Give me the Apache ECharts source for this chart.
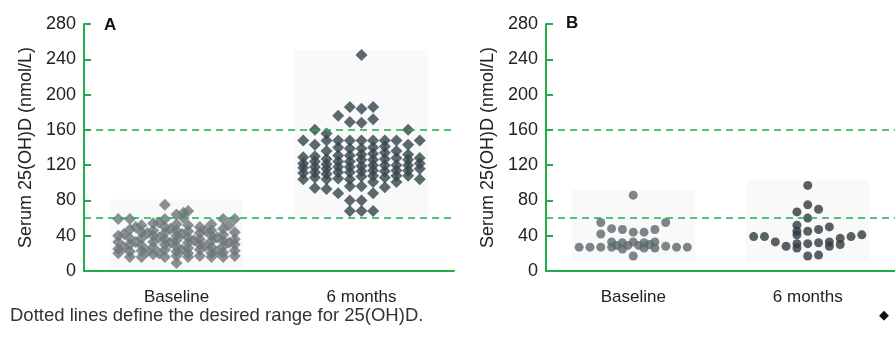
<!DOCTYPE html>
<html>
<head>
<meta charset="utf-8">
<script src="https://cdn.jsdelivr.net/npm/echarts@6/dist/echarts.min.js"></script>
<style>
  html, body { margin: 0; padding: 0; background: #fff; }
  #chart { width: 895px; height: 348px; }
</style>
</head>
<body>
<div id="chart"></div>
<script>
const categories = ["Baseline", "6 months"];
const yMin = 0;
const yMax = 280;
const yStep = 40;
const rangeLines = [60, 160];
const yName = "Serum 25(OH)D (nmol/L)";
const caption = "Dotted lines define the desired range for 25(OH)D.";

// [column offset within the group, serum value]
const panelABaseline = [
  [-5, 59], [-5, 40], [-5, 33], [-5, 25], [-5, 20],
  [-4.5, 42], [-4.5, 27],
  [-4, 59], [-4, 47], [-4, 37], [-4, 30], [-4, 22], [-4, 16],
  [-3.5, 50], [-3.5, 33],
  [-3, 52], [-3, 44], [-3, 37], [-3, 29], [-3, 23], [-3, 16],
  [-2.5, 43], [-2.5, 22],
  [-2, 54], [-2, 46], [-2, 40], [-2, 33], [-2, 27], [-2, 19],
  [-1.5, 55], [-1.5, 38], [-1.5, 20],
  [-1, 75], [-1, 59], [-1, 50], [-1, 43], [-1, 36], [-1, 30], [-1, 24], [-1, 16],
  [-0.5, 48], [-0.5, 32],
  [0, 64], [0, 53], [0, 46], [0, 40], [0, 35], [0, 28], [0, 22], [0, 17], [0, 9],
  [0.5, 42], [0.5, 24],
  [0.6, 66], [0.6, 60],
  [1, 68], [1, 52], [1, 45], [1, 38], [1, 32], [1, 26], [1, 20], [1, 16],
  [1.5, 35],
  [2, 50], [2, 43], [2, 36], [2, 30], [2, 24], [2, 17],
  [2.5, 46], [2.5, 28],
  [3, 53], [3, 46], [3, 40], [3, 34], [3, 27], [3, 20], [3, 16],
  [3.5, 38], [3.5, 22],
  [4, 59], [4, 48], [4, 41], [4, 34], [4, 28], [4, 21], [4, 16],
  [4.5, 52], [4.5, 32],
  [5, 59], [5, 44], [5, 36], [5, 30], [5, 23], [5, 17]
];

const panelAMonths = [
  [-5, 148], [-5, 129], [-5, 122], [-5, 117], [-5, 111], [-5, 104],
  [-4, 160], [-4, 143], [-4, 130], [-4, 124], [-4, 118], [-4, 112], [-4, 106], [-4, 94],
  [-3, 156], [-3, 148], [-3, 136], [-3, 127], [-3, 121], [-3, 116], [-3, 110], [-3, 104], [-3, 93],
  [-2, 176], [-2, 148], [-2, 140], [-2, 131], [-2, 124], [-2, 118], [-2, 112], [-2, 105], [-2, 88],
  [-1, 186], [-1, 169], [-1, 148], [-1, 139], [-1, 131], [-1, 124], [-1, 118], [-1, 112], [-1, 104], [-1, 96], [-1, 80], [-1, 68],
  [0, 245], [0, 184], [0, 168], [0, 148], [0, 139], [0, 132], [0, 126], [0, 119], [0, 113], [0, 107], [0, 96], [0, 80], [0, 68],
  [1, 186], [1, 172], [1, 148], [1, 140], [1, 133], [1, 126], [1, 120], [1, 114], [1, 108], [1, 101], [1, 88], [1, 68],
  [2, 148], [2, 141], [2, 134], [2, 127], [2, 120], [2, 113], [2, 106], [2, 95],
  [3, 148], [3, 136], [3, 128], [3, 120], [3, 114], [3, 108], [3, 101],
  [4, 160], [4, 143], [4, 132], [4, 126], [4, 120], [4, 114], [4, 108],
  [5, 148], [5, 128], [5, 122], [5, 116], [5, 104]
];

const panelBBaseline = [
  [0, 86], [0, 44], [0, 33], [0, 17],
  [-3, 55], [-3, 42], [-3, 27],
  [3, 55], [3, 28],
  [-2, 48], [-2, 33], [-2, 27],
  [-1, 47], [-1, 32], [-1, 25],
  [1, 44], [1, 32], [1, 26],
  [2, 47], [2, 33], [2, 26],
  [-5, 27], [-4, 27], [4, 27], [5, 27],
  [-1.5, 29], [-0.5, 29], [0.5, 29], [1.5, 30]
];

const panelBMonths = [
  [0, 97], [0, 75], [-1, 67], [1, 70], [0, 60],
  [-1, 52], [-1, 45], [-1, 41], [0, 45], [1, 47], [2, 50],
  [-5, 39], [-4, 39], [4, 39], [5, 41],
  [-3, 33], [-2, 28], [-1, 31], [-1, 26], [0, 31], [0, 17],
  [1, 32], [1, 18], [2, 33], [2, 28], [3, 37], [3, 30]
];

const green = "#22ad4c";
const textColor = "#222";
const font = "Liberation Sans, Arial, sans-serif";

function place(pairs, catIndex, spacing) {
  return pairs.map(([c, v]) => [catIndex + 0.5 + c * spacing, v]);
}

function backdrop(points, spacing, xAxisIndex, yAxisIndex) {
  const xs = points.map(p => p[0]);
  const ys = points.map(p => p[1]);
  return {
    type: "scatter", xAxisIndex, yAxisIndex, data: [], z: 1, silent: true,
    markArea: {
      silent: true,
      itemStyle: { color: "#f9f9f9" },
      data: [[
        { coord: [Math.min(...xs) - spacing * 0.7, Math.min(...ys) - 6] },
        { coord: [Math.max(...xs) + spacing * 0.7, Math.max(...ys) + 6] }
      ]]
    }
  };
}

function dots(points, symbol, size, color, xAxisIndex, yAxisIndex, withLines) {
  const s = {
    type: "scatter", xAxisIndex, yAxisIndex, data: points, z: 3,
    symbol, symbolSize: size,
    itemStyle: { color },
    emphasis: { disabled: true }
  };
  if (withLines) {
    s.markLine = {
      silent: true, symbol: "none", label: { show: false },
      lineStyle: { color: green, width: 1.5, type: [7, 5] },
      data: rangeLines.map(v => ({ yAxis: v }))
    };
  }
  return s;
}

const spacingA = 0.063;
const spacingB = 0.062;
const aBase = place(panelABaseline, 0, spacingA);
const aMonths = place(panelAMonths, 1, spacingA);
const bBase = place(panelBBaseline, 0, spacingB);
const bMonths = place(panelBMonths, 1, spacingB);

function catAxis(gridIndex) {
  return {
    gridIndex, type: "category", data: categories,
    axisLine: { lineStyle: { color: green, width: 2 } },
    axisTick: { alignWithLabel: true, length: 8, lineStyle: { color: green, width: 2 } },
    axisLabel: { fontSize: 17, color: textColor, margin: 18, fontFamily: font },
    splitLine: { show: false }
  };
}

function valAxis(gridIndex) {
  return { gridIndex, type: "value", min: 0, max: 2, show: false };
}

function yAxis(gridIndex) {
  return {
    gridIndex, type: "value", min: yMin, max: yMax, interval: yStep,
    name: yName, nameLocation: "middle", nameGap: 49,
    nameTextStyle: { fontSize: 18, color: textColor, fontFamily: font },
    axisLine: { show: true, lineStyle: { color: green, width: 2 } },
    axisTick: { show: true, inside: true, length: 7, lineStyle: { color: green, width: 2 } },
    axisLabel: { fontSize: 18, color: textColor, margin: 8, fontFamily: font },
    splitLine: { show: false }
  };
}

const chart = echarts.init(document.getElementById("chart"), null, { renderer: "canvas" });
chart.setOption({
  animation: false,
  backgroundColor: "#fff",
  grid: [
    { left: 84, top: 24, width: 370, height: 247 },
    { left: 546, top: 24, width: 370, height: 247 }
  ],
  xAxis: [catAxis(0), valAxis(0), catAxis(1), valAxis(1)],
  yAxis: [yAxis(0), yAxis(1)],
  series: [
    backdrop(aBase, spacingA, 1, 0),
    backdrop(aMonths, spacingA, 1, 0),
    backdrop(bBase, spacingB, 3, 1),
    backdrop(bMonths, spacingB, 3, 1),
    dots(aBase, "diamond", 12, "#6d7578", 1, 0, true),
    dots(aMonths, "diamond", 12, "#33434a", 1, 0, false),
    dots(bBase, "circle", 9, "#5d686c", 3, 1, true),
    dots(bMonths, "circle", 9, "#30393e", 3, 1, false)
  ],
  graphic: [
    { type: "text", left: 104, top: 17, style: { text: "A", font: "bold 17px " + font, fill: "#111" } },
    { type: "text", left: 566, top: 15, style: { text: "B", font: "bold 17px " + font, fill: "#111" } },
    { type: "text", left: 10, top: 306, style: { text: caption, font: "18.5px " + font, fill: "#333" } },
    { type: "text", left: 879, top: 309, style: { text: "\u25C6", font: "13px " + font, fill: "#111" } }
  ]
});
</script>
</body>
</html>
